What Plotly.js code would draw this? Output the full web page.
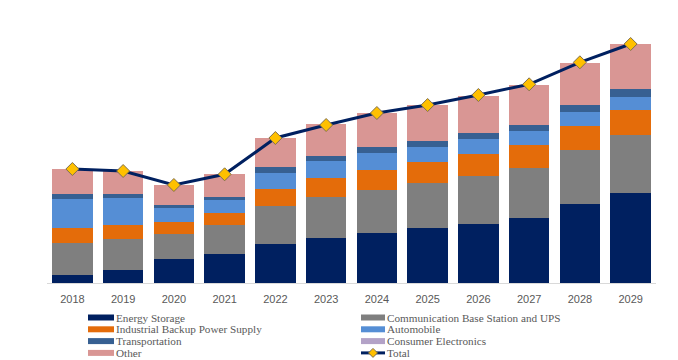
<!DOCTYPE html>
<html>
<head>
<meta charset="utf-8">
<script src="https://cdn.plot.ly/plotly-3.0.1.min.js"></script>
<style>html,body{margin:0;padding:0;background:#fff;}#chart{width:678px;height:360px;}</style>
</head>
<body>
<div id="chart"></div>
<script>
var years = ["2018","2019","2020","2021","2022","2023","2024","2025","2026","2027","2028","2029"];
var energyStorage = [8, 13, 23.7, 29.3, 39, 44.7, 50, 55, 59, 65.3, 79, 89.7];
var commBaseUPS = [32, 31, 25.6, 28.3, 38, 41.6, 43.3, 45.3, 48.3, 50, 53.7, 58];
var industrialBackup = [15, 14, 11.7, 12, 16.7, 18.6, 20, 21, 21.7, 22.4, 24.4, 25.6];
var automobile = [29, 26.7, 13.7, 13.7, 16.3, 17, 16.7, 14.7, 14.7, 14, 14, 12.3];
var transportation = [4.7, 4, 3.3, 3, 5.7, 5.3, 5.7, 6, 6.3, 6.6, 6.7, 8];
var consumerElectronics = [0, 0, 0, 0, 0, 0, 0, 0, 0, 0, 0, 0];
var other = [25, 23.3, 20, 22.3, 29.3, 31.7, 34, 36, 37.3, 39.7, 42.3, 45];
var total = [114, 112, 98, 108.7, 145, 158, 170, 178, 188, 198.7, 220.7, 239];

var seriesNames = ["Energy Storage","Communication Base Station and UPS","Industrial Backup Power Supply","Automobile","Transportation","Consumer Electronics","Other"];
var seriesValues = [energyStorage, commBaseUPS, industrialBackup, automobile, transportation, consumerElectronics, other];
var seriesColors = ["#002060","#7F7F7F","#E46C0A","#558ED5","#376092","#B3A2C7","#D99694"];

var traces = [];
for (var i = 0; i < seriesNames.length; i++) {
  traces.push({
    type: "bar", name: seriesNames[i], x: years, y: seriesValues[i],
    marker: {color: seriesColors[i], line: {width: 0}},
    showlegend: false, hoverinfo: "skip"
  });
}
traces.push({
  type: "scatter", mode: "lines+markers", name: "Total", x: years, y: total,
  line: {color: "#002060", width: 3},
  marker: {symbol: "diamond", size: 10, color: "#FFC000", line: {color: "#7F6F4F", width: 1}},
  showlegend: false, hoverinfo: "skip", cliponaxis: false
});

// layout geometry (pixels)
var W = 678, H = 360, L = 47, R = 22, T = 23, B = 77;
var pw = W - L - R, ph = H - T - B;
function px(x){ return (x - L) / pw; }
function py(y){ return (H - B - y) / ph; }

// manual legend (two columns, compact rows)
var legendLeft = ["Energy Storage","Industrial Backup Power Supply","Transportation","Other"];
var legendLeftColors = ["#002060","#E46C0A","#376092","#D99694"];
var legendRight = ["Communication Base Station and UPS","Automobile","Consumer Electronics","Total"];
var legendRightColors = ["#7F7F7F","#558ED5","#B3A2C7",null];
var rowY = [317.5, 329.3, 341.1, 352.9];
var shapes = [], annotations = [];
function addEntry(x0, x1, yc, color, label, isLine) {
  if (!isLine) {
    shapes.push({type:"rect", xref:"paper", yref:"paper", x0:px(x0), x1:px(x1), y0:py(yc+3), y1:py(yc-3), fillcolor:color, line:{width:0}});
  } else {
    var xm = (x0 + x1) / 2;
    shapes.push({type:"line", xref:"paper", yref:"paper", x0:px(x0), x1:px(x1), y0:py(yc), y1:py(yc), line:{color:"#002060", width:3}});
    shapes.push({type:"path", xref:"paper", yref:"paper",
      path: "M "+px(xm-4.5)+" "+py(yc)+" L "+px(xm)+" "+py(yc-4.5)+" L "+px(xm+4.5)+" "+py(yc)+" L "+px(xm)+" "+py(yc+4.5)+" Z",
      fillcolor:"#FFC000", line:{color:"#7F6F4F", width:1}});
  }
  annotations.push({xref:"paper", yref:"paper", x:px(x1+1), y:py(yc), xanchor:"left", yanchor:"middle",
    text: label, showarrow:false, borderpad:0,
    font:{family:"Liberation Serif, Times New Roman, serif", size:11.2, color:"#595959"}});
}
for (var k = 0; k < 4; k++) {
  addEntry(88, 114, rowY[k], legendLeftColors[k], legendLeft[k], false);
  addEntry(361, 385, rowY[k], legendRightColors[k], legendRight[k], legendRightColors[k] === null);
}

var layout = {
  width: W, height: H,
  margin: {l: L, r: R, t: T, b: B, pad: 0},
  barmode: "stack", bargap: 0.2,
  paper_bgcolor: "#ffffff", plot_bgcolor: "#ffffff",
  showlegend: false,
  xaxis: {type: "category", range: [-0.5, 11.5], showgrid: false, zeroline: false, showline: true, linecolor: "#D9D9D9", linewidth: 1,
          ticks: "outside", ticklen: 6, tickcolor: "rgba(0,0,0,0)",
          tickfont: {family: "Liberation Sans, Arial, sans-serif", size: 11, color: "#595959"}, fixedrange: true},
  yaxis: {range: [0, 260], visible: false, showgrid: false, zeroline: false, fixedrange: true},
  shapes: shapes, annotations: annotations
};
Plotly.newPlot("chart", traces, layout, {displayModeBar: false, staticPlot: true});
</script>
</body>
</html>
